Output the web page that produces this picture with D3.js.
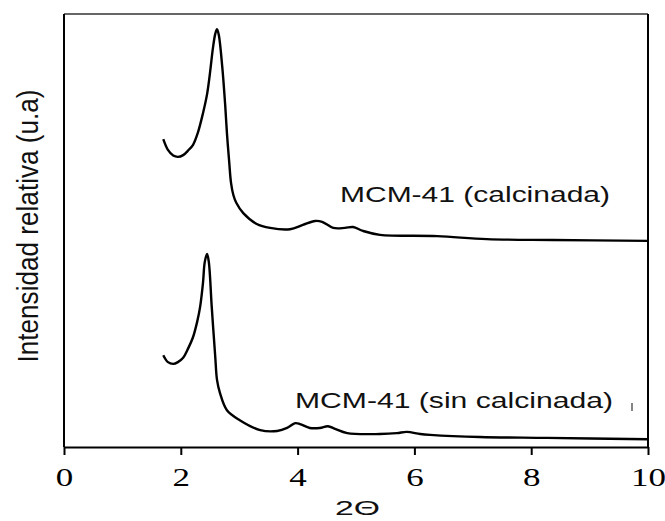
<!DOCTYPE html>
<html>
<head>
<meta charset="utf-8">
<script src="https://cdn.jsdelivr.net/npm/d3@7"></script>
<style>
  body { margin: 0; background: #fff; }
</style>
</head>
<body>
<script>
// 2-theta values and relative intensity (arbitrary units)
var calcX = [1.70, 1.78, 1.87, 1.95, 2.04, 2.12, 2.21, 2.29, 2.38, 2.45, 2.50, 2.55, 2.59, 2.62, 2.65, 2.71, 2.76, 2.79, 2.83, 2.86, 2.90, 2.95, 3.07, 3.30, 3.53, 3.87, 4.09, 4.30, 4.42, 4.61, 4.81, 4.95, 5.12, 5.41, 6.39, 7.24, 8.37, 10.0];
var calcY = [71.1, 68.6, 67.3, 67.0, 67.4, 68.4, 69.8, 72.5, 77.1, 81.5, 86.4, 92.1, 95.4, 96.5, 95.2, 87.8, 79.0, 72.5, 65.6, 61.0, 58.2, 56.4, 54.0, 51.5, 50.6, 50.3, 51.3, 52.2, 52.0, 50.6, 50.6, 50.8, 49.9, 49.0, 48.7, 48.0, 47.8, 47.6];

var sinX = [1.70, 1.78, 1.87, 1.95, 2.04, 2.12, 2.21, 2.28, 2.33, 2.38, 2.41, 2.45, 2.48, 2.53, 2.59, 2.62, 2.67, 2.79, 3.01, 3.36, 3.65, 3.82, 3.96, 4.04, 4.21, 4.38, 4.52, 4.64, 4.85, 5.41, 5.70, 5.87, 6.10, 6.27, 7.12, 8.27, 10.0];
var sinY = [21.2, 19.6, 19.2, 19.6, 20.6, 22.6, 25.4, 28.9, 32.3, 37.9, 42.7, 44.6, 42.7, 32.3, 20.8, 15.5, 12.5, 8.5, 6.2, 3.9, 3.7, 4.4, 5.5, 5.3, 4.4, 4.4, 4.8, 4.2, 3.2, 3.0, 3.2, 3.5, 3.0, 2.8, 2.3, 2.1, 1.8];

var xTicks = [0, 2, 4, 6, 8, 10];
var seriesLabels = ["MCM-41 (calcinada)", "MCM-41 (sin calcinada)"];

var width = 665, height = 521;
var mLeft = 64, mRight = 648, mTop = 14, mBottom = 447;

var svg = d3.select("body")
    .append("svg")
    .attr("width", width)
    .attr("height", height);

var x = d3.scaleLinear().domain([0, 10]).range([mLeft, mRight]);
var y = d3.scaleLinear().domain([0, 100]).range([mBottom, mTop]);

// --- frame --- //
svg.append("line")
    .attr("x1", mLeft).attr("x2", mRight)
    .attr("y1", mTop).attr("y2", mTop)
    .attr("stroke", "#333").attr("stroke-width", 1.5);
svg.append("line")
    .attr("x1", mRight).attr("x2", mRight)
    .attr("y1", mTop).attr("y2", mBottom)
    .attr("stroke", "#000").attr("stroke-width", 2);
svg.append("line")
    .attr("x1", mLeft).attr("x2", mLeft)
    .attr("y1", mTop).attr("y2", mBottom)
    .attr("stroke", "#000").attr("stroke-width", 2);

// --- x axis --- //
var xAxis = svg.append("g")
    .attr("transform", "translate(0," + mBottom + ")")
    .call(d3.axisBottom(x).tickValues(xTicks).tickSize(8).tickSizeOuter(0).tickFormat(d3.format("d")));

xAxis.select(".domain").attr("stroke", "#000").attr("stroke-width", 2);
xAxis.selectAll(".tick line").attr("stroke", "#000").attr("stroke-width", 2);
xAxis.selectAll(".tick text")
    .attr("y", 0).attr("dy", 0)
    .attr("transform", "translate(0,39) scale(1.4,1)")
    .style("font-family", "'Liberation Serif', 'Times New Roman', serif")
    .style("font-size", "25px")
    .attr("fill", "#000");

// --- curves --- //
var line = d3.line()
    .x(function(d) { return x(d[0]); })
    .y(function(d) { return y(d[1]); })
    .curve(d3.curveCatmullRom.alpha(0.5));

function drawCurve(xs, ys)
{
    var pts = xs.map(function(v, i) { return [v, ys[i]]; });
    svg.append("path")
        .attr("d", line(pts))
        .attr("fill", "none")
        .attr("stroke", "#000")
        .attr("stroke-width", 2.4)
        .attr("stroke-linejoin", "round");
}

drawCurve(calcX, calcY);
drawCurve(sinX, sinY);

// --- text --- //
function label(tx, ty, text, size, len)
{
    svg.append("text")
        .attr("x", tx).attr("y", ty)
        .attr("textLength", len)
        .attr("lengthAdjust", "spacingAndGlyphs")
        .style("font-family", "'Liberation Sans', Arial, sans-serif")
        .style("font-size", size + "px")
        .attr("fill", "#111")
        .text(text);
}

label(340, 202, seriesLabels[0], 22.5, 270);
label(295, 408, seriesLabels[1], 22.5, 318);
label(335, 515, "2Θ", 20, 45);

// tiny stray mark near the lower label
svg.append("line")
    .attr("x1", 632).attr("x2", 632)
    .attr("y1", 403).attr("y2", 411)
    .attr("stroke", "#333").attr("stroke-width", 1.2);

svg.append("text")
    .attr("transform", "translate(38,226) scale(1.4,1) rotate(-90)")
    .attr("text-anchor", "middle")
    .attr("textLength", 273)
    .attr("lengthAdjust", "spacingAndGlyphs")
    .style("font-family", "'Liberation Sans', Arial, sans-serif")
    .style("font-size", "21.5px")
    .attr("fill", "#111")
    .text("Intensidad relativa (u.a)");
</script>
</body>
</html>
